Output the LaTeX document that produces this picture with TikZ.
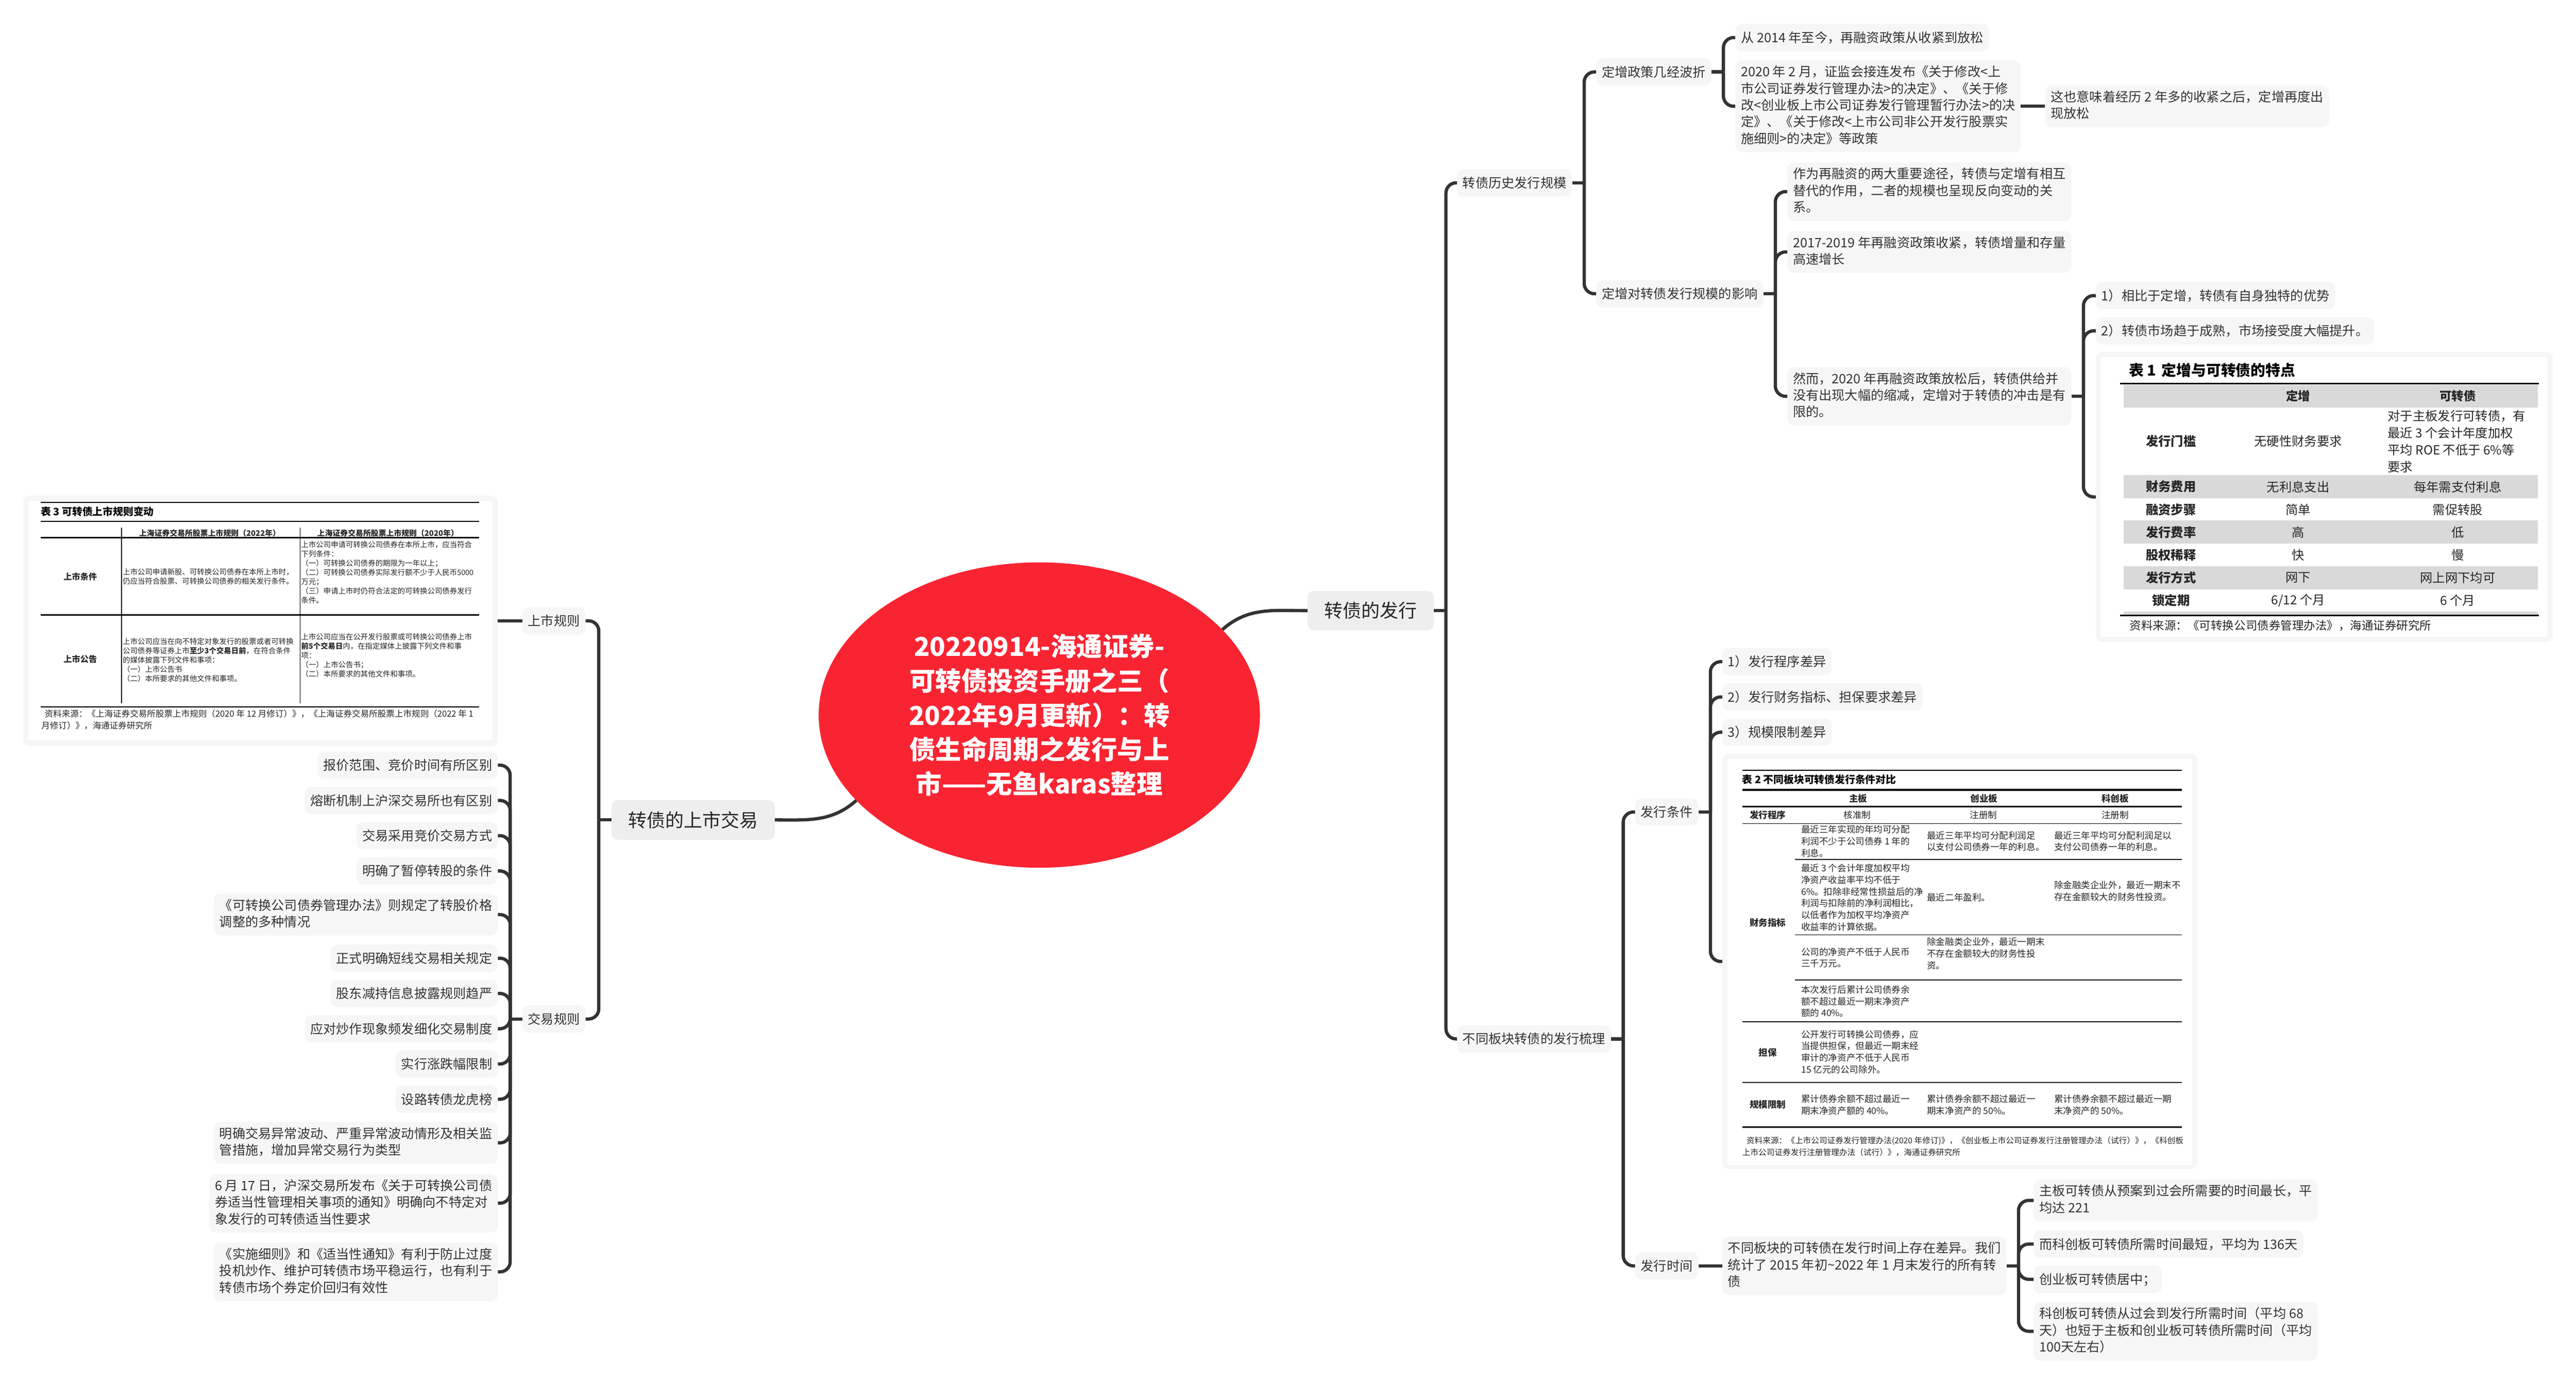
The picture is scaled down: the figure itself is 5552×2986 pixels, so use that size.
\documentclass[tikz,border=0pt]{standalone}
\usepackage{fontspec}
\setmainfont{Noto Sans CJK SC}
\usetikzlibrary{shapes.geometric,calc}
\renewcommand{\,}{^^^^ff0c}
\renewcommand{\:}{^^^^ff1a}
\renewcommand{\;}{^^^^ff1b}
\renewcommand{\(}{^^^^ff08}
\renewcommand{\)}{^^^^ff09}
\newcommand{\leafstrut}{\rule[-7.4pt]{0pt}{36pt}}
\definecolor{linedark}{HTML}{333333}
\definecolor{leafgray}{HTML}{F6F6F6}
\definecolor{topgray}{HTML}{EEEEEE}
\definecolor{rootred}{HTML}{F92432}
\definecolor{rowgray}{HTML}{D9D9D9}
\tikzset{
linkline/.style={draw=linedark,line width=7pt,rounded corners=22pt},
leaf/.style={fill=leafgray,rounded corners=14pt,inner xsep=12pt,inner ysep=11.5pt,align=left,text=linedark,
  font=\fontsize{28}{36}\selectfont,execute at begin node=\leafstrut,execute at end node=\leafstrut},
topic/.style={fill=topgray,rounded corners=14pt,inner xsep=36pt,inner ysep=24pt,text=black!85,font=\fontsize{40}{46}\selectfont},
imgbox/.style={fill=leafgray,rounded corners=14pt,inner sep=0pt},
cellone/.style={inner sep=0pt,align=left,text=black!85,font=\fontsize{27}{36.5}\selectfont},
celltwo/.style={inner sep=0pt,align=left,text=black!85,font=\fontsize{19.5}{25.3}\selectfont},
cellthree/.style={inner sep=0pt,align=left,text=black!85,font=\fontsize{16}{20}\selectfont},
}
\begin{document}
\begin{tikzpicture}[x=1pt,y=-1pt]
\useasboundingbox (0,0) rectangle (5552,2986);
\node[ellipse,fill=rootred,minimum width=951pt,minimum height=658pt,inner sep=0pt,align=center,text=white,font=\fontsize{56}{74}\selectfont\bfseries] at (2240,1541) (root) {20220914-海通证券-\\可转债投资手册之三\(\\2022年9月更新\)\:转\\债生命周期之发行与上\\市——无鱼karas整理};
\node[topic,anchor=west] at (2818,1316) (issue) {转债的发行};
\node[topic,anchor=east] at (1670,1767) (listing) {转债的上市交易};
\draw[linkline] (root.25) to[out=42,in=180] (issue.west);
\draw[linkline] (root.205) to[out=222,in=0] (listing.east);
\node[leaf,anchor=west] at (3140,394) (hist) {转债历史发行规模};
\node[leaf,anchor=west] at (3140,2239) (sector) {不同板块转债的发行梳理};
\node[leaf,anchor=west] at (3440,155) (policy) {定增政策几经波折};
\node[leaf,anchor=west] at (3440,633) (impact) {定增对转债发行规模的影响};
\node[leaf,anchor=west] at (3740,81) (since) {从 2014 年至今\,再融资政策从收紧到放松};
\node[leaf,anchor=west] at (3740,229) (reform) {2020 年 2 月\,证监会接连发布《关于修改<上\\市公司证券发行管理办法>的决定》、《关于修\\改<创业板上市公司证券发行管理暂行办法>的决\\定》、《关于修改<上市公司非公开发行股票实\\施细则>的决定》等政策};
\node[leaf,anchor=west] at ($(reform.east)+(52,0)$) (loosen) {这也意味着经历 2 年多的收紧之后\,定增再度出\\现放松};
\node[leaf,anchor=west] at (3852,413) (rival) {作为再融资的两大重要途径\,转债与定增有相互\\替代的作用\,二者的规模也呈现反向变动的关\\系。};
\node[leaf,anchor=west] at (3852,543) (growth) {2017-2019 年再融资政策收紧\,转债增量和存量\\高速增长};
\node[leaf,anchor=west] at (3852,854) (however) {然而\,2020 年再融资政策放松后\,转债供给并\\没有出现大幅的缩减\,定增对于转债的冲击是有\\限的。};
\node[leaf,anchor=west] at (4517,637) (edge) {1\)相比于定增\,转债有自身独特的优势};
\node[leaf,anchor=west] at (4517,713) (mature) {2\)转债市场趋于成熟\,市场接受度大幅提升。};
\node[imgbox,anchor=west,minimum width=985pt,minimum height=625pt] at (4517,1071) (tblone) {};
\node[leaf,anchor=west] at (3524,1750) (terms) {发行条件};
\node[leaf,anchor=west] at (3524,2728) (timing) {发行时间};
\node[leaf,anchor=west] at (3712,1426) (procdiff) {1\)发行程序差异};
\node[leaf,anchor=west] at (3712,1502) (findiff) {2\)发行财务指标、担保要求差异};
\node[leaf,anchor=west] at (3712,1578) (sizediff) {3\)规模限制差异};
\node[imgbox,anchor=west,minimum width=1024pt,minimum height=895pt] at (3712,2072) (tbltwo) {};
\node[leaf,anchor=west] at (3712,2728) (spread) {不同板块的可转债在发行时间上存在差异。我们\\统计了 2015 年初\textasciitilde 2022 年 1 月末发行的所有转\\债};
\node[leaf,anchor=west] at (4383,2587) (mainb) {主板可转债从预案到过会所需要的时间最长\,平\\均达 221};
\node[leaf,anchor=west] at (4383,2681) (starb) {而科创板可转债所需时间最短\,平均为 136天};
\node[leaf,anchor=west] at (4383,2757) (gemb) {创业板可转债居中\;};
\node[leaf,anchor=west] at (4383,2869) (shortb) {科创板可转债从过会到发行所需时间\(平均 68\\天\)也短于主板和创业板可转债所需时间\(平均\\100天左右\)};
\node[leaf,anchor=east] at (1262,1338) (rule) {上市规则};
\node[leaf,anchor=east] at (1262,2196) (trade) {交易规则};
\node[imgbox,anchor=east,minimum width=1023pt,minimum height=540pt] at (1073,1338) (tblthree) {};
\node[leaf,anchor=east] at (1073,1649) (quote) {报价范围、竞价时间有所区别};
\node[leaf,anchor=east] at (1073,1725) (fuse) {熔断机制上沪深交易所也有区别};
\node[leaf,anchor=east] at (1073,1801) (auction) {交易采用竞价交易方式};
\node[leaf,anchor=east] at (1073,1877) (halt) {明确了暂停转股的条件};
\node[leaf,anchor=east] at (1073,1971) (adjust) {《可转换公司债券管理办法》则规定了转股价格\\调整的多种情况};
\node[leaf,anchor=east] at (1073,2065) (swing) {正式明确短线交易相关规定};
\node[leaf,anchor=east] at (1073,2141) (reduce) {股东减持信息披露规则趋严};
\node[leaf,anchor=east] at (1073,2217) (hype) {应对炒作现象频发细化交易制度};
\node[leaf,anchor=east] at (1073,2293) (limit) {实行涨跌幅限制};
\node[leaf,anchor=east] at (1073,2369) (board) {设路转债龙虎榜};
\node[leaf,anchor=east] at (1073,2463) (abnormal) {明确交易异常波动、严重异常波动情形及相关监\\管措施\,增加异常交易行为类型};
\node[leaf,anchor=east] at (1073,2593) (june) {6 月 17 日\,沪深交易所发布《关于可转换公司债\\券适当性管理相关事项的通知》明确向不特定对\\象发行的可转债适当性要求};
\node[leaf,anchor=east] at (1073,2741) (detail) {《实施细则》和《适当性通知》有利于防止过度\\投机炒作、维护可转债市场平稳运行\,也有利于\\转债市场个券定价回归有效性};
\draw[linkline] (issue.east) -- ++(26,0) coordinate (issuej);
\foreach \c in {hist,sector} \draw[linkline] (issuej) |- (\c.west);
\draw[linkline] (hist.east) -- ++(26,0) coordinate (histj);
\foreach \c in {policy,impact} \draw[linkline] (histj) |- (\c.west);
\draw[linkline] (policy.east) -- ++(26,0) coordinate (policyj);
\foreach \c in {since,reform} \draw[linkline] (policyj) |- (\c.west);
\draw[linkline] (reform.east) -- (loosen.west);
\draw[linkline] (impact.east) -- ++(26,0) coordinate (impactj);
\foreach \c in {rival,growth,however} \draw[linkline] (impactj) |- (\c.west);
\draw[linkline] (however.east) -- ++(26,0) coordinate (howeverj);
\foreach \c in {edge,mature,tblone} \draw[linkline] (howeverj) |- (\c.west);
\draw[linkline] (sector.east) -- ++(26,0) coordinate (sectorj);
\foreach \c in {terms,timing} \draw[linkline] (sectorj) |- (\c.west);
\draw[linkline] (terms.east) -- ++(26,0) coordinate (termsj);
\foreach \c in {procdiff,findiff,sizediff,tbltwo} \draw[linkline] (termsj) |- (\c.west);
\draw[linkline] (timing.east) -- (spread.west);
\draw[linkline] (spread.east) -- ++(26,0) coordinate (spreadj);
\foreach \c in {mainb,starb,gemb,shortb} \draw[linkline] (spreadj) |- (\c.west);
\draw[linkline] (listing.west) -- ++(-27,0) coordinate (listingj);
\foreach \c in {rule,trade} \draw[linkline] (listingj) |- (\c.east);
\draw[linkline] (rule.west) -- (tblthree.east);
\draw[linkline] (trade.west) -- ++(-26,0) coordinate (tradej);
\foreach \c in {quote,fuse,auction,halt,adjust,swing,reduce,hype,limit,board,abnormal,june,detail} \draw[linkline] (tradej) |- (\c.east);
\fill[white] (4527,770) rectangle (5490,1372);
\foreach \y/\h in {829/49,1024/50,1122/50,1220/50,1318/8} \fill[rowgray] (4577,\y) rectangle (5470,\y+\h);
\foreach \y in {827,1326} \draw[line width=3pt] (4569,\y) -- (5472,\y);
\node[anchor=west,inner sep=0pt,font=\fontsize{32}{36}\selectfont\bfseries] at (4588,798) (onetitle) {表 1\hspace{12pt}定增与可转债的特点};
\node[cellone,font=\fontsize{26}{36}\selectfont\bfseries] at (4953,853) (onehb) {定增};
\node[cellone,font=\fontsize{26}{36}\selectfont\bfseries] at (5297,853) (onehc) {可转债};
\node[cellone,font=\fontsize{27}{36}\selectfont\bfseries] at (4679,951) (oneaa) {发行门槛};
\node[cellone] at (4953,951) (oneab) {无硬性财务要求};
\node[cellone,anchor=west] at (5146,951) (oneac) {对于主板发行可转债\,有\\最近 3 个会计年度加权\\平均 ROE 不低于 6\%等\\要求};
\foreach \n/\y/\lab/\a/\b in {cost/1049/财务费用/无利息支出/每年需支付利息,step/1098/融资步骤/简单/需促转股,fee/1147/发行费率/高/低,dilute/1196/股权稀释/快/慢,way/1245/发行方式/网下/网上网下均可,lock/1294/锁定期/6\slash 12 个月/6 个月}{
\node[cellone,font=\fontsize{27}{36}\selectfont\bfseries] at (4679,\y) (\n a) {\lab};
\node[cellone] at (4953,\y) (\n b) {\a};
\node[cellone] at (5297,\y) (\n c) {\b};
}
\node[anchor=west,inner sep=0pt,text=black!85,font=\fontsize{25}{30}\selectfont] at (4590,1348) (onesrc) {资料来源\:《可转换公司债券管理办法》\,海通证券研究所};
\fill[white] (3723,1636) rectangle (4725,2511);
\foreach \y/\w/\xa in {1660/2/3755,1702/4/3755,1738/3/3755,1775/2/3755,1852/1.5/3869,2015/1.5/3869,2112/1.5/3869,2202/2/3755,2333/2/3755,2429/3/3755} \draw[line width=\w pt] (\xa,\y) -- (4703,\y);
\node[anchor=west,inner sep=0pt,font=\fontsize{22}{26}\selectfont\bfseries] at (3755,1680) (twotitle) {表 2 不同板块可转债发行条件对比};
\foreach \n/\x/\lab in {twomain/4005/主板,twogem/4276/创业板,twostar/4559/科创板} \node[celltwo,font=\fontsize{19.5}{25}\selectfont\bfseries] at (\x,1721) (\n) {\lab};
\foreach \n/\y/\lab in {twoproc/1756/发行程序,twofin/1989/财务指标,twoguar/2268/担保,twosize/2381/规模限制} \node[celltwo,font=\fontsize{19.5}{25}\selectfont\bfseries] at (3810,\y) (\n) {\lab};
\foreach \n/\x/\lab in {twoproca/4003/核准制,twoprocb/4275/注册制,twoprocc/4559/注册制} \node[celltwo] at (\x,1756) (\n) {\lab};
\node[celltwo,anchor=west] at (3882,1813) (rowaa) {最近三年实现的年均可分配\\利润不少于公司债券 1 年的\\利息。};
\node[celltwo,anchor=west] at (4153,1813) (rowab) {最近三年平均可分配利润足\\以支付公司债券一年的利息。};
\node[celltwo,anchor=west] at (4427,1813) (rowac) {最近三年平均可分配利润足以\\支付公司债券一年的利息。};
\node[celltwo,anchor=west] at (3882,1934) (rowba) {最近 3 个会计年度加权平均\\净资产收益率平均不低于\\6\%。扣除非经常性损益后的净\\利润与扣除前的净利润相比\,\\以低者作为加权平均净资产\\收益率的计算依据。};
\node[celltwo,anchor=west] at (4153,1934) (rowbb) {最近二年盈利。};
\node[celltwo,anchor=west] at (4427,1920) (rowbc) {除金融类企业外\,最近一期末不\\存在金额较大的财务性投资。};
\node[celltwo,anchor=west] at (3882,2064) (rowca) {公司的净资产不低于人民币\\三千万元。};
\node[celltwo,anchor=west] at (4153,2055) (rowcb) {除金融类企业外\,最近一期末\\不存在金额较大的财务性投\\资。};
\node[celltwo,anchor=west] at (3882,2158) (rowda) {本次发行后累计公司债券余\\额不超过最近一期末净资产\\额的 40\%。};
\node[celltwo,anchor=west] at (3882,2267) (rowea) {公开发行可转换公司债券\,应\\当提供担保\,但最近一期末经\\审计的净资产不低于人民币\\15 亿元的公司除外。};
\node[celltwo,anchor=west] at (3882,2381) (rowfa) {累计债券余额不超过最近一\\期末净资产额的 40\%。};
\node[celltwo,anchor=west] at (4153,2381) (rowfb) {累计债券余额不超过最近一\\期末净资产的 50\%。};
\node[celltwo,anchor=west] at (4427,2381) (rowfc) {累计债券余额不超过最近一期\\末净资产的 50\%。};
\node[celltwo,anchor=west,font=\fontsize{17.4}{25.3}\selectfont] at (3755,2471) (twosrc) {\hspace*{9pt}资料来源\:《上市公司证券发行管理办法(2020 年修订)》\,《创业板上市公司证券发行注册管理办法\(试行\)》\,《科创板\\上市公司证券发行注册管理办法\(试行\)》\,海通证券研究所};
\fill[white] (61,1080) rectangle (1062,1596);
\foreach \y/\w in {1083/2,1123.6/2,1158.6/3,1325/3,1523.6/3} \draw[line width=\w pt] (88,\y) -- (1033,\y);
\foreach \x in {262,647} \draw[line width=1.5pt] (\x,1137.5) -- (\x,1516);
\node[anchor=west,inner sep=0pt,font=\fontsize{22}{26}\selectfont\bfseries] at (88,1103) (threetitle) {表 3 可转债上市规则变动};
\node[cellthree,font=\fontsize{16.5}{20}\selectfont\bfseries] at (452,1149) (headold) {上海证券交易所股票上市规则\(2022年\)};
\node[cellthree,font=\fontsize{16.5}{20}\selectfont\bfseries] at (836,1149) (headnew) {上海证券交易所股票上市规则\(2020年\)};
\node[cellthree,font=\fontsize{18}{20}\selectfont\bfseries] at (173,1243) (condlab) {上市条件};
\node[cellthree,font=\fontsize{18}{20}\selectfont\bfseries] at (173,1421) (noticelab) {上市公告};
\node[cellthree,anchor=west] at (264.5,1243) (condold) {上市公司申请新股、可转换公司债券在本所上市时\,\\仍应当符合股票、可转换公司债券的相关发行条件。};
\node[cellthree,anchor=west] at (649,1234) (condnew) {上市公司申请可转换公司债券在本所上市\,应当符合\\下列条件\:\\\(一\)可转换公司债券的期限为一年以上\;\\\(二\)可转换公司债券实际发行额不少于人民币5000\\万元\;\\\(三\)申请上市时仍符合法定的可转换公司债券发行\\条件。};
\node[cellthree,anchor=west] at (264.5,1422) (noticeold) {上市公司应当在向不特定对象发行的股票或者可转换\\公司债券等证券上市{\bfseries 至少3个交易日前}\,在符合条件\\的媒体披露下列文件和事项\:\\\(一\)上市公告书\\\(二\)本所要求的其他文件和事项。};
\node[cellthree,anchor=west] at (649,1412.5) (noticenew) {上市公司应当在公开发行股票或可转换公司债券上市\\{\bfseries 前5个交易日}内\,在指定媒体上披露下列文件和事\\项\:\\\(一\)上市公告书\;\\\(二\)本所要求的其他文件和事项。};
\node[anchor=west,inner sep=0pt,align=left,text=black!85,font=\fontsize{18.4}{24.5}\selectfont] at (89,1551) (threesrc) {\hspace*{7pt}资料来源\:《上海证券交易所股票上市规则\(2020 年 12 月修订\)》\,《上海证券交易所股票上市规则\(2022 年 1\\月修订\)》\,海通证券研究所};
\end{tikzpicture}
\end{document}
